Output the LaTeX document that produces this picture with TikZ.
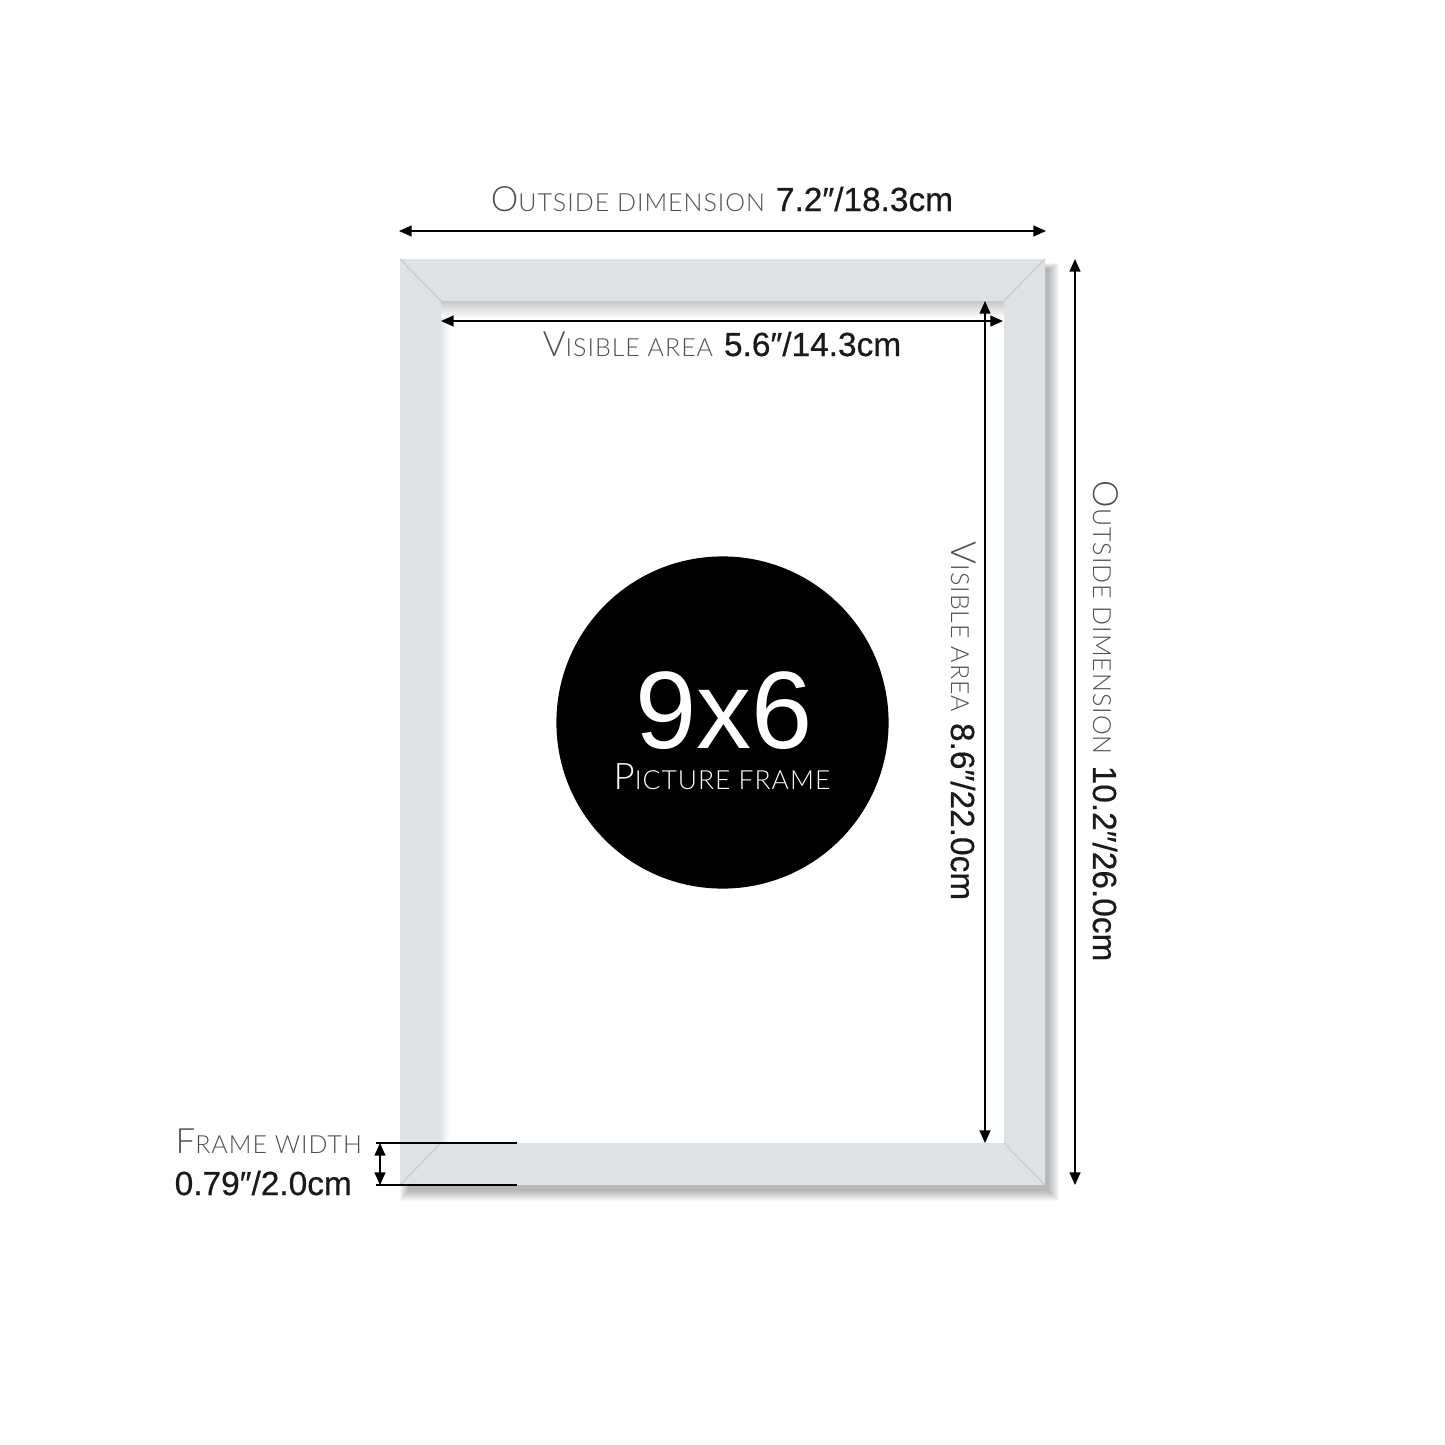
\documentclass[tikz,border=0pt]{standalone}
\usepackage{fontspec}
\setmainfont{Liberation Sans}
\newfontfamily\numfont[FakeBold=0.5]{Liberation Sans}
\newfontfamily\thinfont[LetterSpace=4]{Lato Light}
\usetikzlibrary{arrows.meta}
\definecolor{framecol}{HTML}{DFE2E5}
\definecolor{mitercol}{HTML}{C8CCD0}
\definecolor{txtgray}{HTML}{505050}
\definecolor{numcol}{HTML}{1A1A1A}
\newcommand\fsc[2]{{\fontsize{9.9}{10}\selectfont #1}{\fontsize{7.1}{8}\selectfont #2}}
\newcommand\fscb[2]{{\fontsize{10.4}{10}\selectfont #1}{\fontsize{7.5}{8}\selectfont #2}}
\newcommand\numtxt[1]{{\numfont\fontsize{9.5}{10}\selectfont\color{numcol}#1}}
\begin{document}
\begin{tikzpicture}[x=0.01cm,y=-0.01cm,
  dimline/.style={line width=0.45pt, {Triangle[length=3.6pt,width=3.1pt]}-{Triangle[length=3.6pt,width=3.1pt]}},
  thin/.style={line width=0.4pt},
  lbl/.style={inner sep=0pt, anchor=base, text=txtgray},
  miter/.style={draw=mitercol, line width=0.35pt},
  shadowlayer/.style={fill=black, fill opacity=0.028}]
\useasboundingbox (0,0) rectangle (1445,1445);
\fill[white] (0,0) rectangle (1445,1445);

% soft shadow
\foreach \d in {0,...,10}{
  \fill[shadowlayer] (408-0.8*\d,268-0.5*\d) rectangle (1049+\d,1191+\d);
}
% frame
\fill[framecol, even odd rule] (400,259) rectangle (1045,1185) (441,301) rectangle (1004,1143);
\fill[white] (441,301) rectangle (1004,1143);
% inner shadows
\shade[top color=black!22, bottom color=white] (441,301) rectangle (1004,318);
\shade[left color=black!12, right color=white, opacity=0.8] (441,318) rectangle (449,1143);
% miters
\coordinate (o1) at (400,259); \coordinate (i1) at (441,301);
\coordinate (o2) at (1045,259); \coordinate (i2) at (1004,301);
\coordinate (o3) at (1045,1185); \coordinate (i3) at (1004,1143);
\coordinate (o4) at (400,1185); \coordinate (i4) at (441,1143);
\draw[miter] (o1) -- (i1);
\draw[miter] (o2) -- (i2);
\draw[miter] (o3) -- (i3);
\draw[miter] (o4) -- (i4);

% disc
\node[circle, fill=black, minimum size=3.32cm, inner sep=0pt] (disc) at (722.5,722.5) {};
\node[inner sep=0pt, anchor=base, text=white, font=\fontsize{31.3}{32}\selectfont] (big) at (724,748) {9x6};
\node[inner sep=0pt, anchor=base, text=white] (sub) at (722,789) {\thinfont\fscb{P}{ICTURE FRAME}};

% top outside dimension
\coordinate (tl) at (399,231); \coordinate (tr) at (1046,231);
\draw[dimline] (tl) -- (tr);
\node[lbl] (tOut) at (722,211) {\thinfont\fsc{O}{UTSIDE DIMENSION}\ \numtxt{7.2″/18.3cm}};

% visible horizontal
\coordinate (vl) at (441,321); \coordinate (vr) at (1003,321);
\draw[dimline] (vl) -- (vr);
\node[lbl] (tVis) at (722,356) {\thinfont\fsc{V}{ISIBLE AREA}\ \numtxt{5.6″/14.3cm}};

% visible vertical
\coordinate (vt) at (985,301); \coordinate (vb) at (985,1143);
\draw[dimline] (vt) -- (vb);
\node[lbl, rotate=-90] (tVisV) at (951,721) {\thinfont\fsc{V}{ISIBLE AREA}\ \numtxt{8.6″/22.0cm}};

% outside vertical
\coordinate (ot) at (1075,259); \coordinate (ob) at (1075,1185);
\draw[dimline] (ot) -- (ob);
\node[lbl, rotate=-90] (tOutV) at (1093,721) {\thinfont\fsc{O}{UTSIDE DIMENSION}\ \numtxt{10.2″/26.0cm}};

% frame width
\coordinate (fa) at (376,1143); \coordinate (fb) at (517,1143);
\coordinate (fc) at (376,1185); \coordinate (fd) at (517,1185);
\draw[thin] (fa) -- (fb);
\draw[thin] (fc) -- (fd);
\coordinate (wt) at (380,1143); \coordinate (wb) at (380,1185);
\draw[dimline] (wt) -- (wb);
\node[lbl, anchor=base west] (tFW) at (175,1153) {\thinfont\fsc{F}{RAME WIDTH}};
\node[lbl, anchor=base west] (tFWn) at (174,1195) {\numtxt{0.79″/2.0cm}};
\end{tikzpicture}
\end{document}
